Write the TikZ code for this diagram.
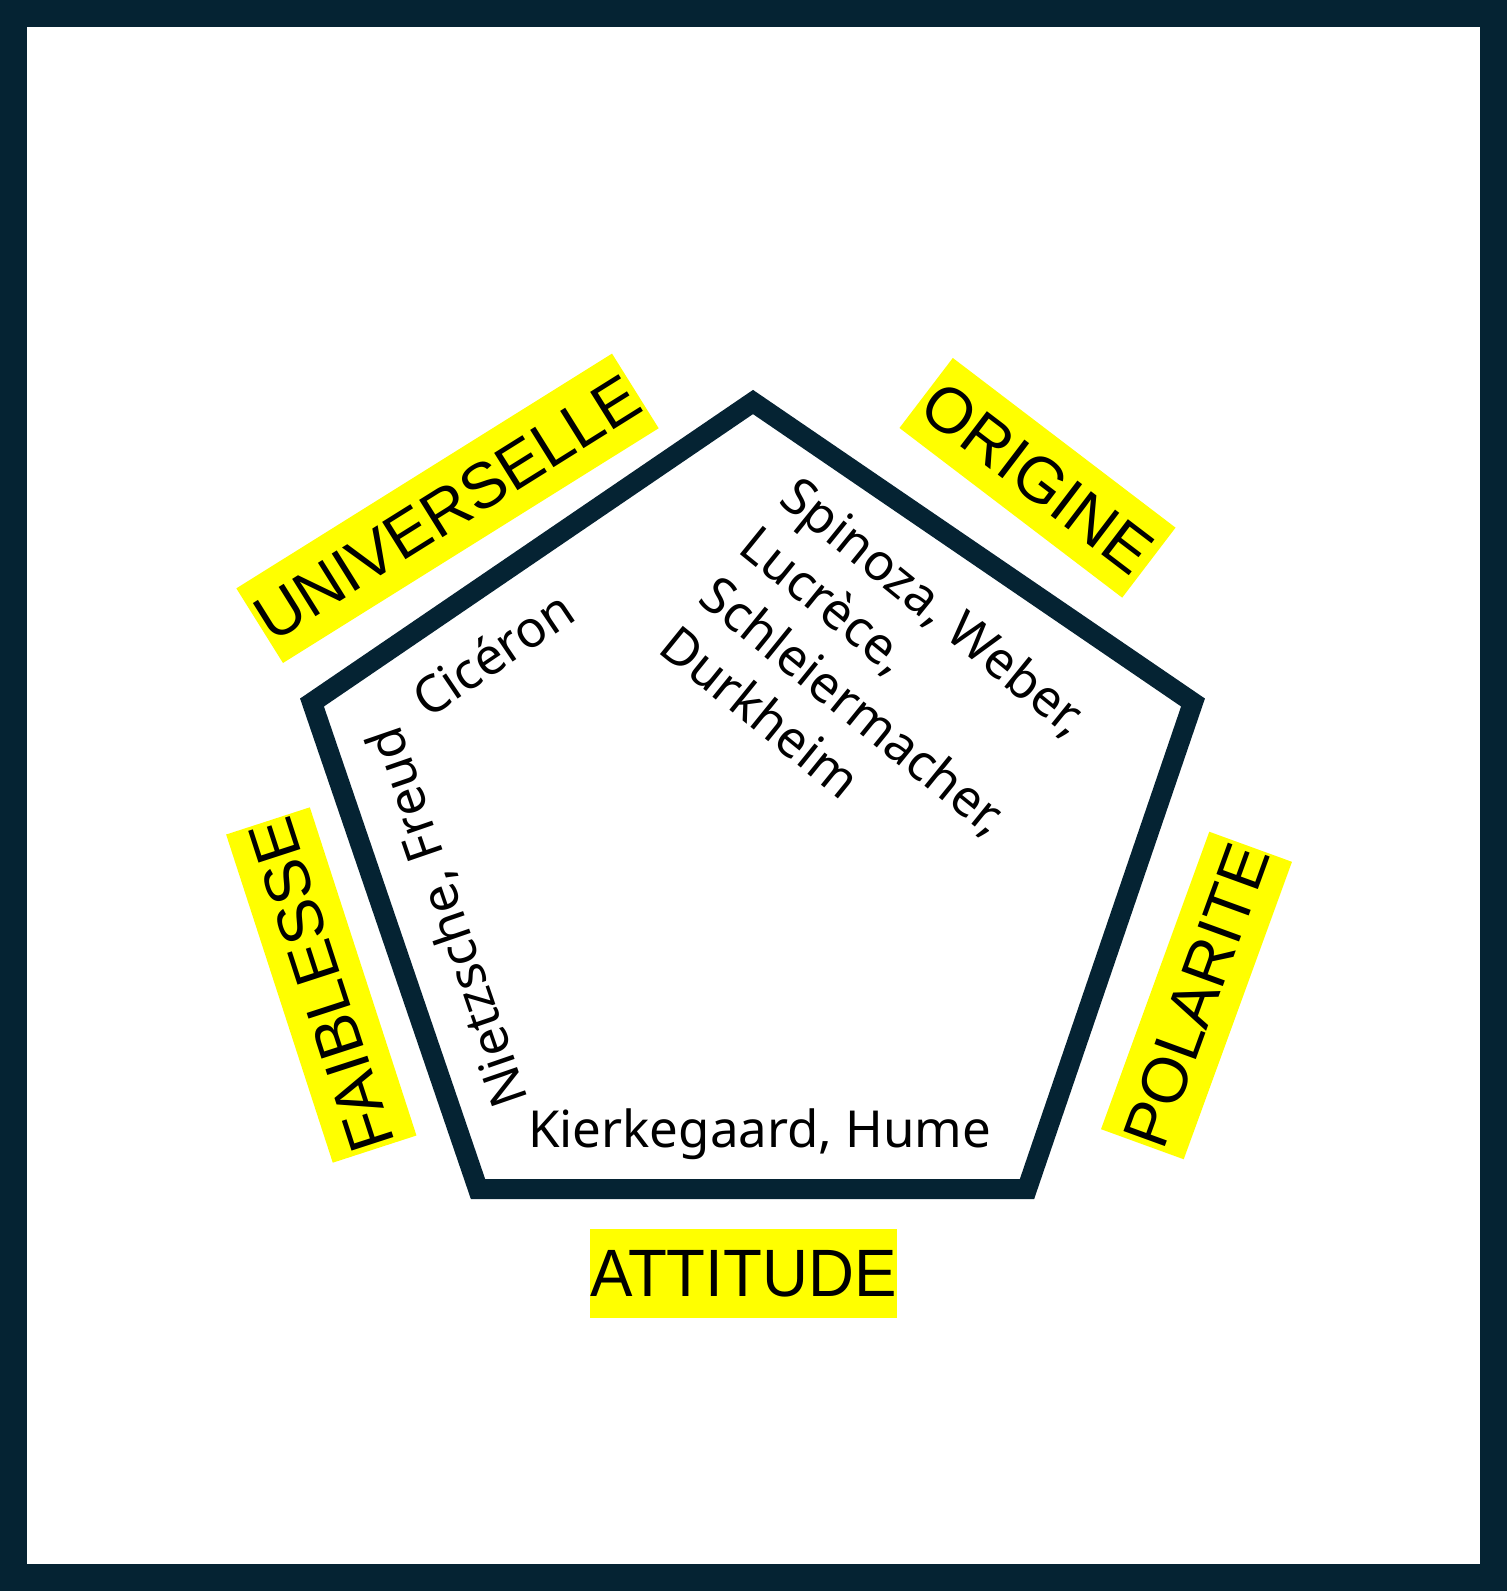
\documentclass[tikz,border=0pt]{standalone}
\usepackage{fontspec}
\newfontfamily\motiffont{Liberation Sans}
\newfontfamily\attfont[FakeStretch=0.95]{Liberation Sans}
\newfontfamily\penseurfont{Noto Sans}
\definecolor{encre}{RGB}{5,35,51}
\definecolor{jaune}{RGB}{255,255,0}
\tikzset{
  motif/.style={fill=jaune, inner sep=0pt, minimum height=88pt, text=black,
    font=\motiffont\fontsize{64}{72}\selectfont},
  penseur/.style={inner sep=0pt, anchor=base west, text=black,
    font=\penseurfont\fontsize{51}{62}\selectfont},
}
\begin{document}
\begin{tikzpicture}[x=1pt, y=-1pt, line join=miter]
  \useasboundingbox (0,0) rectangle (1507,1591);
  \fill[encre] (0,0) rectangle (1507,1591);
  \fill[white] (27,27) rectangle (1480,1564);
  \path
  (753,402) coordinate (T)
  (1193,702.5) coordinate (R)
  (1027,1189) coordinate (BR)
  (478,1189) coordinate (BL)
  (312,702.5) coordinate (L)
  ;
  \draw[encre, line width=20pt] (T)--(R)--(BR)--(BL)--(L)--cycle;
  % les cinq themes
  \foreach \n/\t/\x/\y/\a/\w in {univ/UNIVERSELLE/447.5/508.3/32/443,
    orig/ORIGINE/1037.5/477.8/-37.3/280, faib/FAIBLESSE/321.3/985/108/344,
    pola/POLARITE/1196.5/995.5/70/314}
  \node[motif, rotate=\a, minimum width=\w pt] (\n) at (\x,\y) {\t};
  \node[motif, minimum width=307pt, minimum height=89pt,
    font=\attfont\fontsize{67}{72}\selectfont] (atti) at (743.5,1273.5) {ATTITUDE};
  % les penseurs
  \node[penseur] (kier) at (528,1147) {Kierkegaard, Hume};
  \node[penseur, rotate=34] (cice) at (428,720) {Cicéron};
  \node[penseur, rotate=109] (niet) at (529,1100) {Nietzsche, Freud};
  \foreach \n/\t [count=\k from 0] in {spin/{Spinoza, Weber,}, lucr/{Lucrèce,},
    schl/{Schleiermacher,}, durk/{Durkheim}}
  \node[penseur, rotate=-39] (\n) at ({777-40.3*\k},{502+49.7*\k}) {\t};
\end{tikzpicture}
\end{document}
